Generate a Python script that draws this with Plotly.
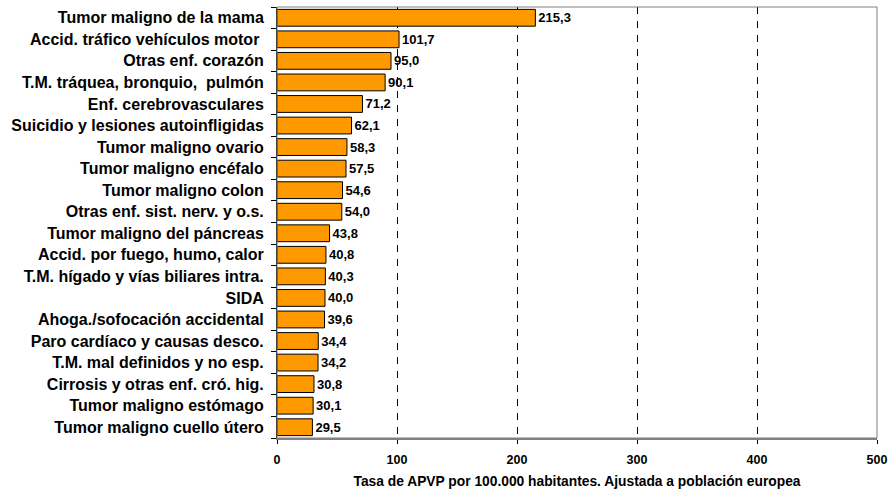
import plotly.graph_objects as go

causes = [
    "Tumor maligno de la mama",
    "Accid. tráfico vehículos motor ",
    "Otras enf. corazón",
    "T.M. tráquea, bronquio,  pulmón",
    "Enf. cerebrovasculares",
    "Suicidio y lesiones autoinfligidas",
    "Tumor maligno ovario",
    "Tumor maligno encéfalo",
    "Tumor maligno colon",
    "Otras enf. sist. nerv. y o.s.",
    "Tumor maligno del páncreas",
    "Accid. por fuego, humo, calor",
    "T.M. hígado y vías biliares intra.",
    "SIDA",
    "Ahoga./sofocación accidental",
    "Paro cardíaco y causas desco.",
    "T.M. mal definidos y no esp.",
    "Cirrosis y otras enf. cró. hig.",
    "Tumor maligno estómago",
    "Tumor maligno cuello útero",
]
rates = [215.3, 101.7, 95.0, 90.1, 71.2, 62.1, 58.3, 57.5, 54.6, 54.0,
         43.8, 40.8, 40.3, 40.0, 39.6, 34.4, 34.2, 30.8, 30.1, 29.5]
x_ticks = [0, 100, 200, 300, 400, 500]
x_title = "Tasa de APVP por 100.000 habitantes. Ajustada a población europea"

FONT = "Liberation Sans, Arial, sans-serif"

fig = go.Figure(go.Bar(
    x=rates, y=causes, orientation="h",
    marker=dict(color="#FF9900", line=dict(color="black", width=1)),
    width=0.78,
    texttemplate="<b>%{x:.1f}</b>", textposition="outside",
    textfont=dict(family=FONT, size=13, color="black"),
    cliponaxis=False,
))

fig.update_layout(
    width=889, height=491,
    margin=dict(l=277, r=12, t=7, b=53),
    plot_bgcolor="white", paper_bgcolor="white",
    separators=",.",
    showlegend=False,
    font=dict(family=FONT, color="black"),
    xaxis=dict(
        range=[0, 500], tickvals=x_ticks,
        ticktext=[f"<b>{v}</b>" for v in x_ticks],
        tickfont=dict(size=12.5, color="black"),
        showgrid=True, gridcolor="black", griddash="7px,7px", gridwidth=1,
        zeroline=False, showline=True, linecolor="#808080", linewidth=2,
        ticks="outside", ticklen=4, tickcolor="black",
        ticklabelstandoff=5,
        automargin=False,
        title=dict(text=f"<b>{x_title}</b>", font=dict(size=13.8), standoff=10),
    ),
    yaxis=dict(
        autorange="reversed",
        tickvals=causes,
        ticktext=[f"<b>{c}</b>" for c in causes],
        tickfont=dict(size=16, color="black"),
        showline=True, linecolor="black", linewidth=1,
        ticks="outside", ticklen=5, tickcolor="black", tickson="boundaries",
        ticklabelstandoff=9,
        automargin=False,
        showgrid=False,
    ),
    shapes=[
        dict(type="rect", xref="x domain", yref="y domain", x0=0, x1=1, y0=0, y1=1,
             line=dict(color="#808080", width=1), layer="above"),
    ],
)

fig.write_html(
    "out.html",
    config={"displayModeBar": False},
    post_script="document.body.style.margin='0';document.body.style.overflow='hidden';",
)
